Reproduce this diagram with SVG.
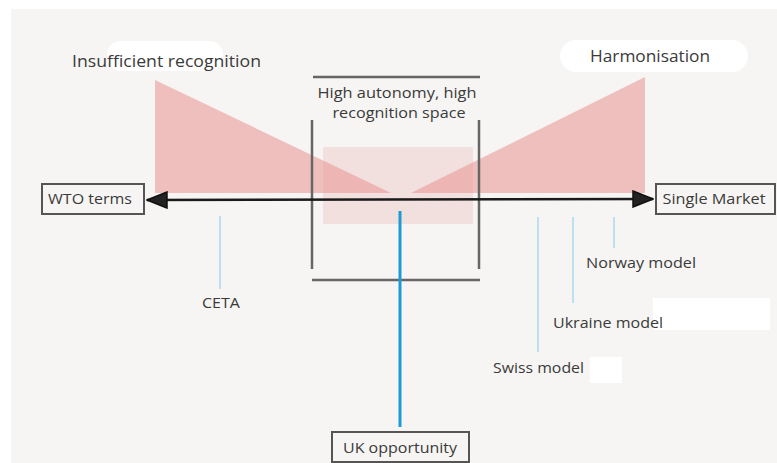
<svg xmlns="http://www.w3.org/2000/svg" width="777" height="463" viewBox="0 0 777 463">
  <defs>
    <style>
      .t { font-family: "Open Sans", "Noto Sans", "Liberation Sans", sans-serif; fill: #3a3a3a; }
      .big { font-size: 16px; }
      .mid { font-size: 14px; }
      .box { fill: none; stroke: #555; stroke-width: 2; }
      .bracket { stroke: #666; stroke-width: 2.5; fill: none; }
      .tick { stroke: #a9d9f2; stroke-width: 1.5; fill: none; }
      .tri { fill: #e88a8a; fill-opacity: 0.5; }
      .patch { fill: #ffffff; }
    </style>
    <marker id="ah" viewBox="0 0 22 18" refX="21" refY="9" markerWidth="22" markerHeight="18" markerUnits="userSpaceOnUse" orient="auto-start-reverse">
      <path d="M1,1 L21,9 L1,17 Z" fill="#222" stroke="#111" stroke-width="1.5"/>
    </marker>
  </defs>

  <!-- background -->
  <rect x="0" y="0" width="777" height="463" fill="#ffffff"/>
  <rect x="11" y="9" width="766" height="454" fill="#f6f5f3"/>

  <!-- white patches -->
  <rect class="patch" x="107" y="41" width="116" height="30" rx="14"/>
  <rect class="patch" x="560" y="40" width="188" height="32" rx="16"/>
  <rect class="patch" x="653" y="298" width="117" height="32"/>
  <rect class="patch" x="590" y="357" width="32" height="26"/>

  <!-- shaded areas -->
  <g id="zones">
    <rect x="323" y="147" width="150" height="77" fill="#e88a8a" fill-opacity="0.2"/>
    <polygon class="tri" points="155,80 155,193 391,193"/>
    <polygon class="tri" points="645,77 645,193 411,193"/>
  </g>

  <!-- autonomy bracket -->
  <g id="autonomy-space">
    <line class="bracket" x1="313" y1="77" x2="480" y2="77"/>
    <line class="bracket" x1="312" y1="120" x2="312" y2="269"/>
    <line class="bracket" x1="479" y1="120" x2="479" y2="269"/>
    <line class="bracket" x1="312" y1="280" x2="480" y2="280"/>
    <text class="t mid" x="397" y="98" text-anchor="middle" textLength="159" lengthAdjust="spacingAndGlyphs">High autonomy, high</text>
    <text class="t mid" x="399" y="118" text-anchor="middle" textLength="133" lengthAdjust="spacingAndGlyphs">recognition space</text>
  </g>

  <!-- connectors -->
  <g id="connectors">
    <line x1="147" y1="200" x2="653" y2="199" stroke="#1a1a1a" stroke-width="2.5" marker-start="url(#ah)" marker-end="url(#ah)"/>
    <line x1="400" y1="211" x2="400" y2="427" stroke="#1e9ad6" stroke-width="3"/>
    <line class="tick" x1="220" y1="216" x2="220" y2="289"/>
    <line class="tick" x1="614" y1="217" x2="614" y2="248"/>
    <line class="tick" x1="573" y1="217" x2="573" y2="303"/>
    <line class="tick" x1="538" y1="217" x2="538" y2="352"/>
  </g>

  <!-- nodes -->
  <g id="insufficient-recognition">
    <text class="t big" x="72" y="67" textLength="189" lengthAdjust="spacingAndGlyphs">Insufficient recognition</text>
  </g>
  <g id="harmonisation">
    <text class="t big" x="590" y="62" textLength="120" lengthAdjust="spacingAndGlyphs">Harmonisation</text>
  </g>
  <g id="wto-terms">
    <rect class="box" x="42" y="184" width="102" height="30" fill="#fafafa"/>
    <text class="t mid" x="90" y="204" text-anchor="middle" textLength="84" lengthAdjust="spacingAndGlyphs">WTO terms</text>
  </g>
  <g id="single-market">
    <rect class="box" x="656" y="184" width="119" height="30"/>
    <text class="t mid" x="714" y="204" text-anchor="middle" textLength="103" lengthAdjust="spacingAndGlyphs">Single Market</text>
  </g>
  <g id="ceta">
    <text class="t mid" x="221" y="308" text-anchor="middle" textLength="38" lengthAdjust="spacingAndGlyphs">CETA</text>
  </g>
  <g id="norway-model">
    <text class="t mid" x="586" y="268" textLength="110" lengthAdjust="spacingAndGlyphs">Norway model</text>
  </g>
  <g id="ukraine-model">
    <text class="t mid" x="553" y="328" textLength="110" lengthAdjust="spacingAndGlyphs">Ukraine model</text>
  </g>
  <g id="swiss-model">
    <text class="t mid" x="493" y="373" textLength="91" lengthAdjust="spacingAndGlyphs">Swiss model</text>
  </g>
  <g id="uk-opportunity">
    <rect class="box" x="332" y="432" width="137" height="30"/>
    <text class="t mid" x="400" y="453" text-anchor="middle" textLength="114" lengthAdjust="spacingAndGlyphs">UK opportunity</text>
  </g>
</svg>
